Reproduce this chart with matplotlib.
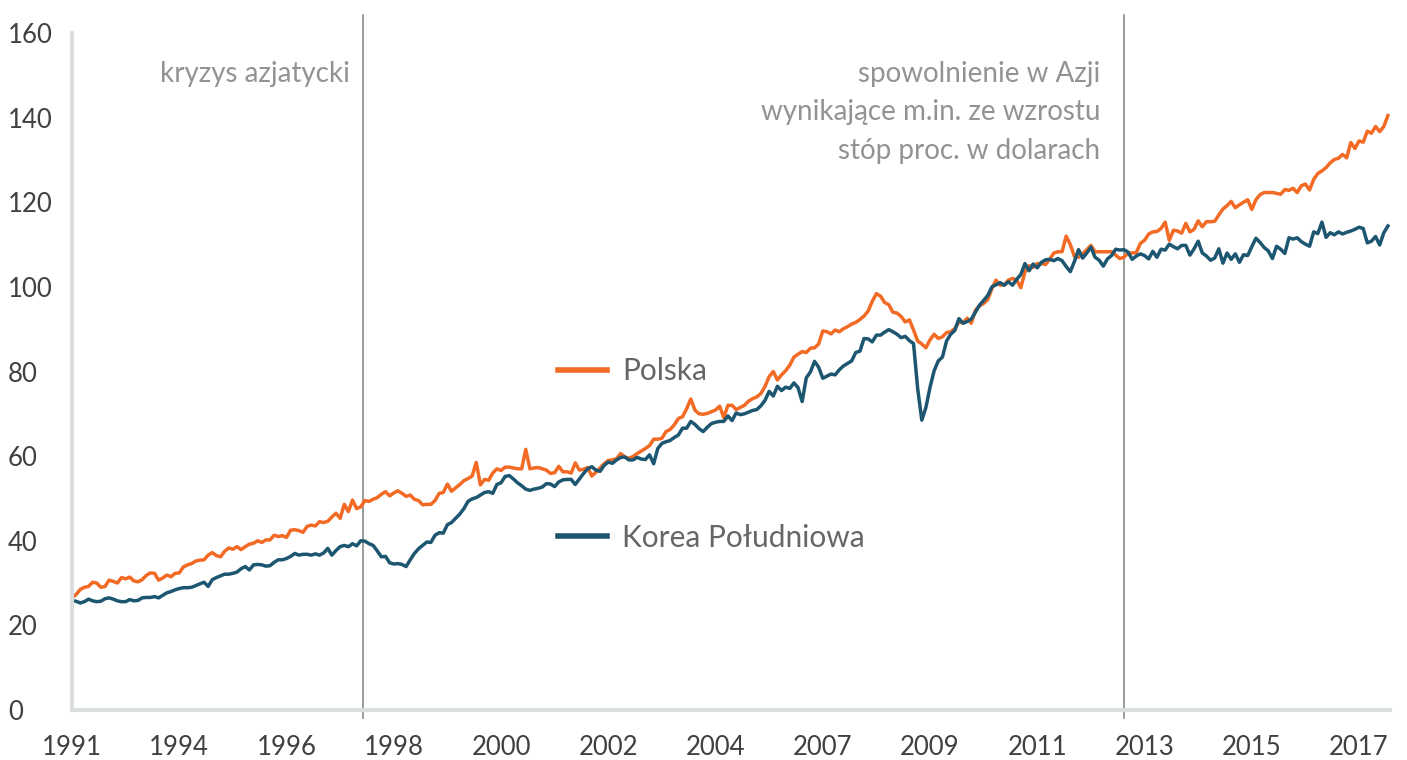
import numpy as np
import pandas as pd
import matplotlib
matplotlib.use("Agg")
import matplotlib.pyplot as plt

# ---- data (monthly index, start Dec 1991) ----
start_month = "1991-12-01"
polska = [
    26.5, 27.3, 28.5, 29.0, 29.2, 30.2, 30.0, 29.0, 29.2, 30.7,
    30.4, 30.0, 31.3, 31.0, 31.4, 30.5, 30.3, 30.8, 31.8, 32.4,
    32.3, 30.7, 31.2, 31.9, 31.5, 32.3, 32.4, 33.8, 34.3, 34.6,
    35.2, 35.4, 35.5, 36.6, 37.2, 36.5, 36.2, 37.5, 38.3, 38.0,
    38.6, 37.9, 38.6, 39.2, 39.4, 40.0, 39.6, 40.2, 40.2, 41.3,
    41.0, 41.2, 40.8, 42.5, 42.6, 42.4, 42.0, 43.4, 43.7, 43.5,
    44.5, 44.3, 44.6, 45.6, 46.5, 45.3, 48.6, 46.9, 49.6, 47.6,
    48.0, 49.5, 49.3, 49.8, 50.2, 51.0, 51.6, 50.6, 51.3, 51.8,
    51.2, 50.5, 50.8, 49.8, 49.5, 48.5, 48.6, 48.6, 49.5, 51.2,
    51.4, 53.4, 51.7, 52.5, 53.3, 54.2, 54.7, 55.3, 58.5, 53.2,
    54.5, 54.3, 56.0, 57.0, 56.6, 57.4, 57.4, 57.2, 57.0, 57.0,
    61.6, 57.0, 57.2, 57.3, 57.0, 56.7, 55.9, 56.1, 57.6, 56.3,
    56.3, 56.0, 58.4, 56.7, 56.9, 57.3, 55.3, 56.2, 57.2, 58.2,
    59.0, 59.1, 59.4, 60.6, 59.8, 59.5, 59.9, 60.6, 61.2, 61.8,
    62.5, 64.0, 64.0, 64.2, 65.8, 66.3, 67.4, 68.9, 69.3, 71.2,
    73.5, 70.9, 70.0, 69.9, 70.1, 70.5, 70.9, 71.8, 69.1, 72.0,
    72.0, 71.0, 71.5, 72.0, 73.0, 73.6, 74.0, 74.8, 76.5, 78.8,
    80.0, 78.0, 79.2, 80.2, 81.5, 83.4, 84.1, 84.7, 84.5, 85.5,
    85.6, 86.5, 89.6, 89.4, 88.9, 89.8, 89.4, 90.1, 90.6, 91.2,
    91.6, 92.3, 93.1, 94.3, 96.6, 98.4, 97.8, 96.3, 95.8, 94.0,
    93.8, 93.0, 91.7, 92.2, 89.8, 87.2, 86.5, 85.6, 87.5, 88.8,
    87.8, 88.2, 89.2, 89.4, 90.1, 91.7, 91.5, 92.6, 91.4, 94.5,
    95.5, 96.1, 97.0, 99.6, 101.6, 100.4, 100.5, 101.6, 102.0, 101.6,
    99.8, 103.5, 105.0, 104.6, 105.5, 105.5, 105.3, 106.5, 108.0, 108.3,
    108.3, 112.0, 110.0, 107.2, 107.0, 107.8, 108.8, 109.8, 108.3, 108.3,
    108.3, 108.3, 108.3, 107.5, 106.7, 107.0, 108.0, 108.0, 108.1, 110.3,
    111.0, 112.5, 113.0, 113.1, 113.8, 115.3, 111.0, 113.4, 113.2, 112.7,
    115.0, 113.0, 113.6, 115.6, 114.2, 115.4, 115.4, 115.5, 117.0, 118.4,
    119.2, 120.2, 118.7, 119.4, 120.0, 120.6, 118.3, 120.6, 121.8, 122.3,
    122.3, 122.3, 122.1, 121.9, 123.0, 122.8, 123.3, 122.3, 123.9, 124.3,
    122.9, 125.4, 126.8, 127.4, 128.2, 129.3, 130.1, 130.4, 131.3, 130.5,
    134.1, 132.7, 134.5, 134.2, 136.8, 136.3, 137.9, 136.7, 137.9, 140.5,
]
korea = [
    25.8, 25.7, 25.3, 25.6, 26.2, 25.8, 25.6, 25.7, 26.3, 26.5,
    26.2, 25.8, 25.6, 25.6, 26.1, 25.8, 25.9, 26.5, 26.6, 26.6,
    26.8, 26.5, 27.1, 27.7, 28.0, 28.4, 28.7, 28.9, 28.9, 29.0,
    29.4, 29.8, 30.2, 29.2, 30.8, 31.3, 31.7, 32.1, 32.1, 32.3,
    32.6, 33.4, 33.9, 33.1, 34.3, 34.4, 34.3, 34.0, 34.1, 34.9,
    35.5, 35.5, 35.8, 36.3, 37.0, 36.6, 36.8, 36.8, 36.6, 36.9,
    36.6, 37.1, 38.2, 36.6, 37.7, 38.6, 38.9, 38.6, 39.3, 38.8,
    40.0, 39.9, 39.3, 38.9, 37.6, 36.2, 36.3, 34.8, 34.5, 34.6,
    34.4, 33.9, 35.5, 37.0, 38.1, 38.9, 39.7, 39.6, 41.3, 41.9,
    41.8, 43.8, 44.3, 45.3, 46.3, 47.6, 49.3, 49.9, 50.2, 50.8,
    51.4, 51.6, 51.2, 53.3, 53.7, 55.2, 55.4, 54.6, 53.7, 53.0,
    52.2, 51.9, 52.2, 52.4, 52.7, 53.5, 53.4, 52.8, 53.9, 54.4,
    54.5, 54.5, 53.3, 54.6, 55.9, 57.0, 57.5, 56.7, 56.4, 57.8,
    58.6, 58.3, 59.1, 59.7, 59.8, 59.1, 59.1, 59.7, 59.3, 59.2,
    60.3, 58.2, 61.8, 63.0, 63.4, 63.7, 64.4, 65.0, 66.6, 66.6,
    68.2, 67.5, 66.5, 65.8, 66.8, 67.7, 68.0, 68.2, 68.2, 69.5,
    68.4, 70.2, 69.8, 70.0, 70.4, 70.8, 71.0, 71.9, 73.2, 75.3,
    74.2, 76.5, 75.5, 76.3, 76.0, 77.3, 76.2, 72.9, 78.5, 79.9,
    82.4, 81.0, 78.4, 78.9, 79.4, 79.2, 80.4, 81.3, 81.9, 82.5,
    84.5, 84.8, 87.8, 87.7, 87.0, 88.6, 88.6, 89.3, 89.9, 89.4,
    88.8, 88.0, 88.3, 87.3, 86.6, 76.0, 68.5, 71.5, 76.3, 80.2,
    82.5, 83.4, 87.2, 88.8, 89.7, 92.5, 91.4, 91.8, 92.4, 94.0,
    95.7, 96.8, 98.0, 100.0, 100.5, 101.0, 100.4, 101.2, 100.4, 101.8,
    102.9, 105.5, 103.8, 105.4, 104.5, 105.8, 106.4, 106.5, 106.2, 106.7,
    106.2, 104.8, 103.6, 106.0, 108.8, 106.8, 108.0, 109.4, 107.0, 106.3,
    104.9, 106.6, 107.4, 108.9, 108.7, 108.8, 108.2, 106.5, 107.3, 107.8,
    107.4, 106.6, 108.4, 107.0, 108.9, 108.7, 110.1, 109.5, 109.0, 109.8,
    109.8, 107.5, 109.0, 110.8, 108.0, 107.3, 106.3, 106.8, 109.0, 105.6,
    108.0, 106.5, 107.8, 105.8, 107.6, 107.4, 109.5, 111.5, 110.5, 109.3,
    108.5, 106.7, 109.6, 108.9, 107.9, 111.6, 111.3, 111.6, 110.7, 110.1,
    109.6, 113.0, 112.6, 115.3, 111.7, 112.8, 112.3, 113.0, 112.5, 112.9,
    113.2, 113.6, 114.1, 113.8, 110.4, 110.8, 111.9, 109.9, 112.8, 114.4,
]
series_names = ["Polska", "Korea Południowa"]
x_labels = ["1991", "1994", "1996", "1998", "2000", "2002", "2004",
            "2007", "2009", "2011", "2013", "2015", "2017"]
label_every = 26  # months between category labels
y_ticks = [0, 20, 40, 60, 80, 100, 120, 140, 160]
event_dates = ["1997-10-19", "2013-03-01"]
event_texts = ["kryzys azjatycki",
               "spowolnienie w Azji\nwynikające m.in. ze wzrostu\nstóp proc. w dolarach"]

# ---- style ----
C_PL = "#F26A24"
C_KR = "#1D5670"
C_AX = "#DADEDE"
C_TXT = "#404040"
C_NOTE = "#939393"
C_EV = "#808080"

plt.rcParams["font.family"] = ["Lato", "DejaVu Sans"]

W, H = 1407, 760
fig = plt.figure(figsize=(W / 100, H / 100), dpi=100)
ax = fig.add_axes([72 / W, 50 / H, (1390 - 72) / W, (710 - 33) / H])

months = np.arange(len(polska))
dates = pd.date_range(start_month, periods=len(polska), freq="MS")

l1, = ax.plot(months, polska, color=C_PL, lw=2.5, solid_joinstyle="round")
l2, = ax.plot(months, korea, color=C_KR, lw=2.5, solid_joinstyle="round")

ax.set_xlim(0, len(polska) - 0.5)
ax.set_ylim(0, 160)

ax.set_yticks(y_ticks)
ax.set_yticklabels([str(v) for v in y_ticks], ha="left")
ax.set_xticks(months[::label_every][:len(x_labels)])
ax.set_xticklabels(x_labels)
ax.tick_params(axis="y", length=0, pad=46, labelsize=18.5, labelcolor=C_TXT)
ax.tick_params(axis="x", length=0, pad=18, labelsize=18.5, labelcolor=C_TXT)

for s in ["top", "right"]:
    ax.spines[s].set_visible(False)
for s in ["left", "bottom"]:
    ax.spines[s].set_color(C_AX)
    ax.spines[s].set_linewidth(3)

# event lines
def month_pos(dstr):
    d = pd.Timestamp(dstr)
    base = pd.Timestamp(start_month)
    whole = (d.year - base.year) * 12 + (d.month - base.month)
    return whole + (d.day - 1) / d.days_in_month

ev_pos = [month_pos(d) for d in event_dates]
for p in ev_pos:
    ax.axvline(p, ymin=-0.012, ymax=1.027, color=C_EV, lw=1.1, clip_on=False, zorder=1)

ax.annotate(event_texts[0], xy=(ev_pos[0], 150.3), xytext=(-9.5, 0),
            textcoords="offset points", ha="right", va="center",
            fontsize=20, color=C_NOTE)
ax.annotate(event_texts[1], xy=(ev_pos[1], 141.3), xytext=(-17, 0),
            textcoords="offset points", ha="right", va="center",
            multialignment="right", linespacing=1.6,
            fontsize=20, color=C_NOTE)

# legend
leg = ax.legend([l1, l2], series_names, loc="upper left",
                bbox_to_anchor=((558 - 72) / (1390 - 72), (710 - 357) / 677),
                frameon=False, fontsize=21.5, labelcolor="#666666",
                handlelength=1.65, handletextpad=0.5, labelspacing=4.65,
                borderaxespad=0, borderpad=0)
for h in leg.legend_handles:
    h.set_linewidth(4)

fig.savefig("out.png", dpi=100)
